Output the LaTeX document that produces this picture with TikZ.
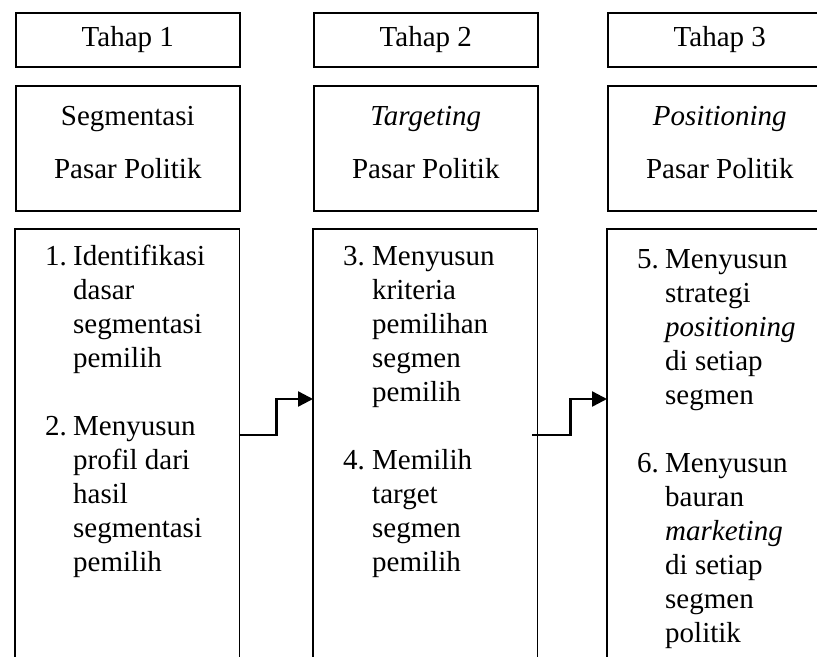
\documentclass[tikz,border=0pt]{standalone}
\usepackage{fontspec}
\setmainfont{Liberation Serif}
\usetikzlibrary{arrows.meta,calc}
\begin{document}
\begin{tikzpicture}[x=1bp,y=-1bp,
  box/.style={draw, line width=1.6bp, minimum width=224bp, inner sep=0pt, anchor=north west},
  col/.style={minimum width=224bp, minimum height=440bp, inner sep=0pt, anchor=north west},
  side/.style={line width=1.6bp},
  txt/.style={font=\fontsize{29bp}{35bp}\selectfont, inner sep=0pt},
  conn/.style={line width=2.4bp, -{Triangle[length=15bp,width=15bp]}}]
\useasboundingbox (0,0) rectangle (817,657);
% row 1
\node[box, txt, minimum height=54bp] (t1) at (15,12) {Tahap 1};
\node[box, txt, minimum height=54bp] (t2) at (313,12) {Tahap 2};
\node[box, txt, minimum height=54bp] (t3) at (607,12) {Tahap 3};
% row 2
\node[box, minimum height=125bp] (h1) at (15,85) {};
\node[box, minimum height=125bp] (h2) at (313,85) {};
\node[box, minimum height=125bp] (h3) at (607,85) {};
\node[txt, anchor=base] (h1a) at ($(h1.north)+(0,41)$) {Segmentasi};
\node[txt, anchor=base] (h1b) at ($(h1.north)+(0,93)$) {Pasar Politik};
\node[txt, anchor=base] (h2a) at ($(h2.north)+(0,41)$) {\textit{Targeting}};
\node[txt, anchor=base] (h2b) at ($(h2.north)+(0,93)$) {Pasar Politik};
\node[txt, anchor=base] (h3a) at ($(h3.north)+(0,41)$) {\textit{Positioning}};
\node[txt, anchor=base] (h3b) at ($(h3.north)+(0,93)$) {Pasar Politik};
% row 3
\node[col] (c1) at (15,229) {};
\node[col] (c2) at (313,229) {};
\node[col] (c3) at (607,229) {};
\foreach \c in {c1,c2,c3}
  \draw[side] (\c.south west) -- (\c.north west) -- (\c.north east) -- (\c.south east);
% column 1 text
\node[txt, anchor=base west] (n1) at ($(c1.north west)+(30,36)$) {1.};
\foreach \t [count=\i from 0] in {Identifikasi, dasar, segmentasi, pemilih}
  \node[txt, anchor=base west] (c1a\i) at ($(c1.north west)+(58,36+34*\i)$) {\t};
\node[txt, anchor=base west] (n2) at ($(c1.north west)+(30,206)$) {2.};
\foreach \t [count=\i from 0] in {Menyusun, profil dari, hasil, segmentasi, pemilih}
  \node[txt, anchor=base west] (c1b\i) at ($(c1.north west)+(58,206+34*\i)$) {\t};
% column 2 text
\node[txt, anchor=base west] (n3) at ($(c2.north west)+(30,36)$) {3.};
\foreach \t [count=\i from 0] in {Menyusun, kriteria, pemilihan, segmen, pemilih}
  \node[txt, anchor=base west] (c2a\i) at ($(c2.north west)+(59,36+34*\i)$) {\t};
\node[txt, anchor=base west] (n4) at ($(c2.north west)+(30,240)$) {4.};
\foreach \t [count=\i from 0] in {Memilih, target, segmen, pemilih}
  \node[txt, anchor=base west] (c2b\i) at ($(c2.north west)+(59,240+34*\i)$) {\t};
% column 3 text
\node[txt, anchor=base west] (n5) at ($(c3.north west)+(30,39)$) {5.};
\foreach \t [count=\i from 0] in {Menyusun, strategi, \textit{positioning}, di setiap, segmen}
  \node[txt, anchor=base west] (c3a\i) at ($(c3.north west)+(58,39+34*\i)$) {\t};
\node[txt, anchor=base west] (n6) at ($(c3.north west)+(30,243)$) {6.};
\foreach \t [count=\i from 0] in {Menyusun, bauran, \textit{marketing}, di setiap, segmen, politik}
  \node[txt, anchor=base west] (c3b\i) at ($(c3.north west)+(58,243+34*\i)$) {\t};
% connectors
\draw[conn] ($(c1.north east)+(0,206)$) -- ++(37,0) |- ($(c2.north west)+(0,170)$);
\draw[conn] ($(c2.north east)+(-5,206)$) -- ++(38,0) |- ($(c3.north west)+(0,170)$);
\end{tikzpicture}
\end{document}
